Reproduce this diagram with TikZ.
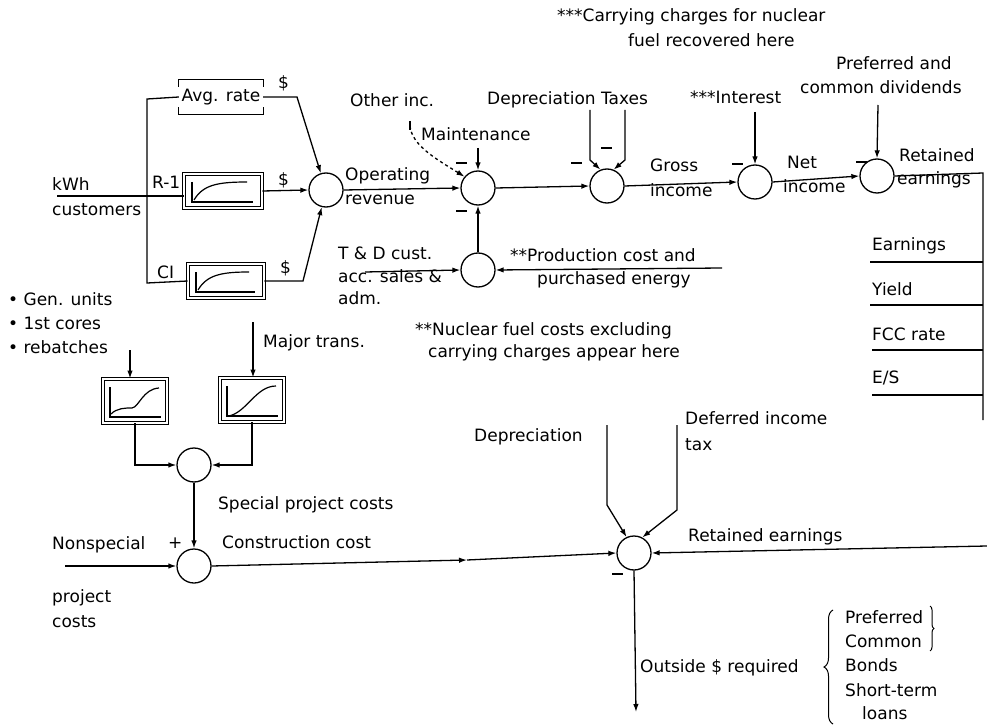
\documentclass[tikz,border=0pt]{standalone}
\usepackage{fontspec}
\setmainfont{DejaVu Sans}
\usetikzlibrary{arrows.meta,decorations.pathreplacing}
\begin{document}
\begin{tikzpicture}[x=1pt,y=-1pt,
  every node/.style={font=\fontsize{17}{20}\selectfont},
  lbl/.style={anchor=west,inner sep=0pt},
  sumnode/.style={circle,draw,line width=1.3pt,minimum size=34pt,inner sep=0pt},
  conn/.style={line width=1.3pt},
  arr/.style={conn,-{Latex[length=8pt,width=5.5pt]}},
  dblbox/.style={draw,double,line width=0.9pt,double distance=2pt,inner sep=0pt},
  tick/.style={line width=1.1pt},
  plotline/.style={line width=1.2pt}
]
\useasboundingbox (0,0) rectangle (987,727);

% ---------- summing junctions ----------
\node[sumnode] (S1) at (326,190) {};
\node[sumnode] (S2) at (478,188) {};
\node[sumnode] (S3) at (607,186) {};
\node[sumnode] (S4) at (755,182) {};
\node[sumnode] (S5) at (877,176) {};
\node[sumnode] (S6) at (478,270) {};
\node[sumnode] (S7) at (194,465) {};
\node[sumnode] (S8) at (194,566) {};
\node[sumnode] (S9) at (634,553) {};

% ---------- blocks ----------
\node[inner sep=0pt,minimum width=84pt,minimum height=34pt] (avg) at (221,97) {Avg. rate};
\draw[tick] ([yshift=-7pt]avg.north west) -- (avg.north west) -- (avg.north east) -- ([yshift=-7pt]avg.north east);
\draw[tick] ([yshift=7pt]avg.south west) -- (avg.south west) -- (avg.south east) -- ([yshift=7pt]avg.south east);

\node[dblbox,minimum width=78pt,minimum height=34pt] (r1) at (223,191) {};
\node[dblbox,minimum width=76pt,minimum height=34pt] (ci) at (226,281) {};
\node[dblbox,minimum width=64pt,minimum height=44pt] (b1) at (135,401) {};
\node[dblbox,minimum width=64pt,minimum height=44pt] (b2) at (252,400) {};

\begin{scope}[shift={(r1.center)}]
  \draw[plotline] (-31,-9) -- (-31,11) -- (30,11);
  \draw[plotline] (-29,9) .. controls (-20,-6) and (-6,-9) .. (24,-9);
\end{scope}
\begin{scope}[shift={(ci.center)}]
  \draw[plotline] (-30,-9) -- (-30,11) -- (29,11);
  \draw[plotline] (-28,9) .. controls (-19,-6) and (-5,-9) .. (23,-9);
\end{scope}
\begin{scope}[shift={(b1.center)}]
  \draw[plotline] (-25,-14) -- (-25,16) -- (26,16);
  \draw[plotline] (-24,13) .. controls (-18,7) and (-10,7) .. (-3,7) .. controls (4,6) and (8,-12) .. (24,-13);
\end{scope}
\begin{scope}[shift={(b2.center)}]
  \draw[plotline] (-25,-14) -- (-25,16) -- (26,16);
  \draw[plotline] (-23,16) .. controls (-5,12) and (4,-14) .. (24,-14);
\end{scope}

% ---------- free ends ----------
\coordinate (kin) at (57,196);
\coordinate (vt) at (147,99);
\coordinate (vb) at (147,283);
\coordinate (avgr) at (297,97);
\coordinate (cir) at (303,281);
\coordinate (oi) at (410,126);
\coordinate (mt) at (478,148);
\coordinate (td) at (365,272);
\coordinate (pc) at (722,268);
\coordinate (dpa) at (590,110);
\coordinate (dpb) at (590,160);
\coordinate (txa) at (625,110);
\coordinate (txb) at (625,160);
\coordinate (it) at (755,112);
\coordinate (dv) at (878,105);
\coordinate (rc) at (983,173);
\coordinate (rb) at (983,420);
\coordinate (b1in) at (130,350);
\coordinate (b2in) at (253,322);
\coordinate (ns) at (65,566);
\coordinate (cm) at (467,560);
\coordinate (d2a) at (607,425);
\coordinate (d2b) at (607,505);
\coordinate (dfa) at (677,425);
\coordinate (dfb) at (677,510);
\coordinate (re2) at (987,546);
\coordinate (out) at (636,712);

% ---------- connectors ----------
\draw[conn] (kin) -- (kin -| r1.west);
\draw[conn] (avg.west) -- (vt) -- (vb) -- (ci.west);
\draw[arr] (avg.east) -- (avgr) -- (S1);
\draw[arr] (r1.east) -- (S1.west);
\draw[arr] (ci.east) -- (cir) -- (S1);
\draw[arr] (S1.east) -- (S2.west);
\draw[conn] ([yshift=5pt]oi) -- ([yshift=-4pt]oi);
\draw[arr,dashed] (oi) .. controls (412,146) and (438,160) .. (S2.140);
\draw[arr] (mt) -- (S2.north);
\draw[arr] (S6.north) -- (S2.south);
\draw[arr] (td) -- (S6.west);
\draw[arr] (pc) -- (S6.east);
\draw[arr] (S2.east) -- (S3.west);
\draw[arr] (dpa) -- (dpb) -- (S3.112);
\draw[arr] (txa) -- (txb) -- (S3.68);
\draw[arr] (S3.east) -- (S4.west);
\draw[arr] (it) -- (S4.north);
\draw[arr] (S4.east) -- (S5.west);
\draw[arr] (dv) -- (S5.north);
\draw[conn] (S5.east) -- (rc) -- (rb);
% right-hand table
\draw[conn] (870,262) -- (983,262);
\draw[conn] (870,305) -- (983,305);
\draw[conn] (872,350) -- (983,350);
\draw[conn] (872,395) -- (983,395);

\draw[arr] (b1in) -- (b1in |- b1.north);
\draw[arr] (b2in) -- (b2in |- b2.north);
\draw[arr] (b1.south) |- (S7.west);
\draw[arr] (b2.south) |- (S7.east);
\draw[arr] (S7.south) -- (S8.north);
\draw[arr] (ns) -- (S8.west);
\draw[arr] (S8.east) -- (cm);
\draw[arr] (cm) -- (S9.west);
\draw[arr] (d2a) -- (d2b) -- (S9.115);
\draw[arr] (dfa) -- (dfb) -- (S9.62);
\draw[arr] (re2) -- (S9.east);
\draw[arr] (S9.south) -- (out);

% minus signs
\draw[tick] (456,163) -- (467,163);
\draw[tick] (456,211) -- (467,211);
\draw[tick] (571,163) -- (582,163);
\draw[tick] (601,148) -- (612,148);
\draw[tick] (732,164) -- (743,164);
\draw[tick] (856,162) -- (867,162);
\draw[tick] (612,574) -- (623,574);

% braces
\draw[line width=1pt,decorate,decoration={brace,amplitude=9pt}] (833,724) -- (833,610);
\draw[line width=1pt,decorate,decoration={brace,amplitude=4pt}] (930,606) -- (930,651);

% ---------- labels ----------
\node[lbl] at (557,17) {***Carrying charges for nuclear};
\node[lbl] at (628,40) {fuel recovered here};
\node[lbl] at (836,63) {Preferred and};
\node[lbl] at (800,87) {common dividends};
\node[lbl] at (690,97) {***Interest};
\node[lbl] at (487,100) {Depreciation Taxes};
\node[lbl] at (350,100) {Other inc.};
\node[lbl] at (278,83) {\$};
\node[lbl] at (421,134) {Maintenance};
\node[lbl] at (345,176) {Operating};
\node[lbl] at (345,200) {revenue};
\node[lbl] at (650,165) {Gross};
\node[lbl] at (650,190) {income};
\node[lbl] at (787,162) {Net};
\node[lbl] at (783,186) {income};
\node[lbl] at (899,155) {Retained};
\node[lbl] at (897,180) {earnings};
\node[lbl] at (52,184) {kWh};
\node[lbl] at (52,210) {customers};
\node[lbl] at (152,182) {R-1};
\node[lbl] at (157,272) {CI};
\node[lbl] at (278,180) {\$};
\node[lbl] at (280,268) {\$};
\node[lbl] at (338,253) {T \& D cust.};
\node[lbl] at (338,276) {acc. sales \&};
\node[lbl] at (338,298) {adm.};
\node[lbl] at (510,255) {**Production cost and};
\node[lbl] at (537,280) {purchased energy};
\node[lbl] at (415,331) {**Nuclear fuel costs excluding};
\node[lbl] at (428,353) {carrying charges appear here};
\node[lbl] at (872,246) {Earnings};
\node[lbl] at (872,289) {Yield};
\node[lbl] at (872,334) {FCC rate};
\node[lbl] at (872,378) {E/S};
\node[lbl] at (8,299) {• Gen. units};
\node[lbl] at (8,323) {• 1st cores};
\node[lbl] at (8,347) {• rebatches};
\node[lbl] at (263,343) {Major trans.};
\node[lbl] at (685,418) {Deferred income};
\node[lbl] at (685,445) {tax};
\node[lbl] at (474,437) {Depreciation};
\node[lbl] at (218,505) {Special project costs};
\node[lbl] at (688,537) {Retained earnings};
\node[lbl] at (52,545) {Nonspecial};
\node[lbl] at (168,543) {+};
\node[lbl] at (222,542) {Construction cost};
\node[lbl] at (52,598) {project};
\node[lbl] at (52,622) {costs};
\node[lbl] at (640,668) {Outside \$ required};
\node[lbl] at (845,617) {Preferred};
\node[lbl] at (845,641) {Common};
\node[lbl] at (845,665) {Bonds};
\node[lbl] at (845,690) {Short-term};
\node[lbl] at (862,713) {loans};
\end{tikzpicture}
\end{document}
